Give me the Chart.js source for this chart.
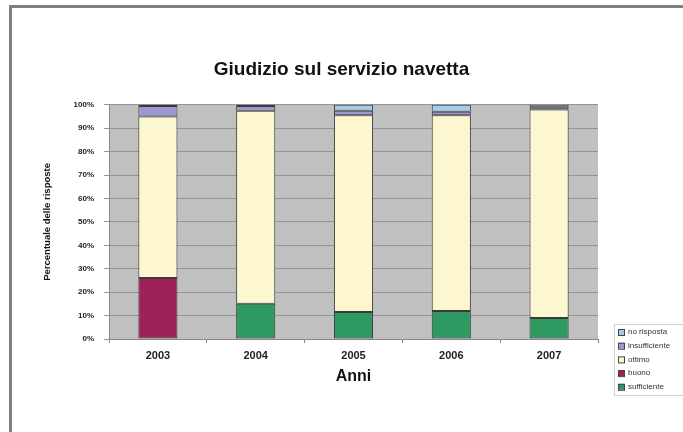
<!DOCTYPE html>
<html>
<head>
<meta charset="utf-8">
<script src="https://cdn.jsdelivr.net/npm/chart.js@4/dist/chart.umd.min.js"></script>
<style>
  html, body { margin: 0; padding: 0; background: #fff; }
  #wrap { position: relative; width: 683px; height: 432px; overflow: hidden; }
  #cornice { position: absolute; left: 9px; top: 5px; right: -10px; bottom: -10px;
             border-top: 3px solid #7f7f7f; border-left: 3px solid #7f7f7f; }
  #grafico { position: absolute; left: 0; top: 0; }
</style>
</head>
<body>
<div id="wrap">
  <div id="cornice"></div>
  <canvas id="grafico" width="683" height="432"></canvas>
</div>
<script>
// dati (percentuali)
var anni = ['2003', '2004', '2005', '2006', '2007'];
var sufficiente = [0, 15, 11.5, 12, 9];
var buono = [26, 0, 0, 0, 0];
var ottimo = [69, 82.5, 84, 83.5, 89];
var insufficiente = [4.5, 2, 2, 1.5, 1];
var noRisposta = [0.5, 0.5, 2.5, 3, 1];
var tickY = [0, 10, 20, 30, 40, 50, 60, 70, 80, 90, 100];

var FONT = "'Liberation Sans', Arial, sans-serif";

function creaSerie(label, data, colore) {
    return {
        label: label,
        data: data,
        backgroundColor: colore,
        borderColor: '#3a3a3a',
        borderWidth: 1,
        borderSkipped: false,
        categoryPercentage: 1,
        barPercentage: 0.4
    };
}

// sfondo grigio dell'area del grafico
var sfondoArea = {
    id: 'sfondoArea',
    beforeDraw: function (chart) {
        var a = chart.chartArea, ctx = chart.ctx;
        ctx.save();
        ctx.fillStyle = '#c0c0c0';
        ctx.fillRect(a.left, a.top, a.right - a.left, a.bottom - a.top);
        ctx.restore();
    }
};

// legenda piccola in basso a destra, con cornice
var legendaBox = {
    id: 'legendaBox',
    afterDraw: function (chart) {
        var ctx = chart.ctx;
        var ds = chart.data.datasets.slice().reverse();
        var x0 = 614, y0 = 324, w = 75, h = 71;
        ctx.save();
        ctx.fillStyle = '#ffffff';
        ctx.fillRect(x0, y0, w, h);
        ctx.strokeStyle = '#d0d0d0';
        ctx.lineWidth = 1;
        ctx.strokeRect(x0 + 0.5, y0 + 0.5, w, h);
        ctx.font = '8px ' + FONT;
        ctx.textBaseline = 'middle';
        ds.forEach(function (d, i) {
            var y = 332 + i * 13.7;
            ctx.fillStyle = d.backgroundColor;
            ctx.fillRect(618, y - 3, 6, 6);
            ctx.strokeStyle = '#444';
            ctx.strokeRect(618.5, y - 2.5, 6, 6);
            ctx.fillStyle = '#333';
            ctx.fillText(d.label, 628, y);
        });
        ctx.restore();
    }
};

var ctx = document.getElementById('grafico').getContext('2d');
var grafico = new Chart(ctx, {
    type: 'bar',
    data: {
        labels: anni,
        datasets: [
            creaSerie('sufficiente', sufficiente, '#2e9a62'),
            creaSerie('buono', buono, '#9e2159'),
            creaSerie('ottimo', ottimo, '#fdf7cf'),
            creaSerie('insufficiente', insufficiente, '#9c98d2'),
            creaSerie('no risposta', noRisposta, '#a3cdea')
        ]
    },
    options: {
        responsive: false,
        animation: false,
        layout: { padding: 0 },
        plugins: {
            legend: { display: false },
            tooltip: { enabled: false },
            title: {
                display: true,
                text: 'Giudizio sul servizio navetta',
                color: '#111',
                font: { family: FONT, size: 19, weight: 'bold' },
                padding: { top: 58, bottom: 24 }
            }
        },
        scales: {
            x: {
                stacked: true,
                offset: true,
                afterFit: function (s) { s.height = 93; },
                grid: { display: true, drawOnChartArea: false, offset: true, tickLength: 4, color: '#888' },
                border: { color: '#888' },
                ticks: { color: '#222', padding: 6, font: { family: FONT, size: 11, weight: 'bold' } },
                title: {
                    display: true,
                    text: 'Anni',
                    color: '#111',
                    font: { family: FONT, size: 16, weight: 'bold' },
                    padding: { top: 4, bottom: 46 }
                }
            },
            y: {
                stacked: true,
                min: 0,
                max: 100,
                afterFit: function (s) { s.width = 109; },
                afterBuildTicks: function (s) {
                    s.ticks = tickY.map(function (v) { return { value: v }; });
                },
                grid: { color: '#949494', tickLength: 5, lineWidth: 1 },
                border: { color: '#888' },
                ticks: {
                    color: '#222',
                    padding: 10,
                    font: { family: FONT, size: 8, weight: 'bold' },
                    callback: function (v) { return v + '%'; }
                },
                title: {
                    display: true,
                    text: 'Percentuale delle risposte',
                    color: '#111',
                    font: { family: FONT, size: 9.5, weight: 'bold' },
                    padding: { top: 42, bottom: 0 }
                }
            },
            // spazio vuoto a destra per la legenda
            spazioDx: {
                type: 'linear',
                position: 'right',
                display: true,
                afterFit: function (s) { s.width = 85; },
                grid: { display: false },
                border: { display: false },
                ticks: { display: false }
            }
        }
    },
    plugins: [sfondoArea, legendaBox]
});
</script>
</body>
</html>
